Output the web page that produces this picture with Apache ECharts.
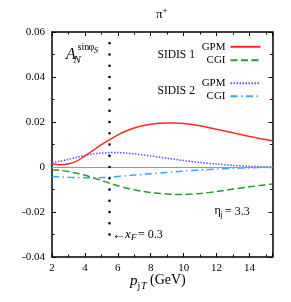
<!DOCTYPE html>
<html><head><meta charset="utf-8">
<script src="https://cdn.jsdelivr.net/npm/echarts@6/dist/echarts.min.js"></script>
<style>html,body{margin:0;padding:0;background:#fff}#c{width:291px;height:302px}</style>
</head><body><div id="c"></div>
<script>
const xValues = [2, 2.5, 3, 3.5, 4, 4.5, 5, 5.5, 6, 6.5, 7, 7.5, 8, 8.5, 9, 9.5, 10, 11, 12, 13, 14, 15, 15.4];
const sidis1GPM = [0.0013, 0.0010, 0.0014, 0.0026, 0.0049, 0.0074, 0.0099, 0.0122, 0.0143, 0.0160, 0.0173, 0.0183, 0.0190, 0.0194, 0.0196, 0.0196, 0.0193, 0.0183, 0.0168, 0.0152, 0.0136, 0.0122, 0.0117];
const sidis1CGI = [-0.0012, -0.0015, -0.0020, -0.0028, -0.0037, -0.0048, -0.0060, -0.0072, -0.0083, -0.0093, -0.0101, -0.0108, -0.0113, -0.0117, -0.0120, -0.0122, -0.0122, -0.0118, -0.0109, -0.0098, -0.0088, -0.0079, -0.0075];
const sidis2GPM = [0.0019, 0.0026, 0.0034, 0.0043, 0.0051, 0.0058, 0.0062, 0.0064, 0.0064, 0.0062, 0.0058, 0.0054, 0.0049, 0.0044, 0.0039, 0.0034, 0.0029, 0.0020, 0.0013, 0.0007, 0.0003, 0.0001, 0.0000];
const sidis2CGI = [-0.0042, -0.0044, -0.0046, -0.0047, -0.0048, -0.0048, -0.0047, -0.0045, -0.0042, -0.0039, -0.0036, -0.0033, -0.0030, -0.0027, -0.0024, -0.0021, -0.0018, -0.0013, -0.0009, -0.0006, -0.0004, -0.0002, -0.0002];
const xFCut = 5.5;
const dotRange = [0.055, -0.035];
const xMin = 2, xMax = 15.4, yMin = -0.04, yMax = 0.06;

const F = 'Liberation Serif, Times New Roman, serif';
const pair = ys => xValues.map((x, i) => [x, ys[i]]);
const chart = echarts.init(document.getElementById('c'), null, {renderer: 'canvas'});

const axisCommon = {
  axisLine: {show: true, onZero: false, lineStyle: {color: '#000', width: 1.5}},
  axisTick: {show: true, inside: true, length: 4, lineStyle: {color: '#000', width: 1}},
  minorTick: {show: true, splitNumber: 2, length: 2.5, lineStyle: {color: '#000', width: 1}},
  splitLine: {show: false}
};

function line(name, ys, color, type, z) {
  return {
    name, type: 'line', data: pair(ys), smooth: 0.3, symbol: 'none', showSymbol: false,
    xAxisIndex: 0, yAxisIndex: 0, z: z || 3,
    lineStyle: {color, width: 1.5, type}, itemStyle: {color}
  };
}

const t = (text, x, y, size, opts) => Object.assign({
  type: 'text', x, y,
  style: Object.assign({text, font: size + 'px ' + F, fill: '#000', verticalAlign: 'middle', align: 'left'}, opts || {})
});

const s1g = line('SIDIS 1 GPM', sidis1GPM, '#ff2a2a', 'solid', 6);
s1g.markLine = {
  silent: true, symbol: 'none', animation: false,
  label: {show: false},
  data: [
    {yAxis: 0, lineStyle: {color: '#999', width: 1, type: 'solid'}},
    [{coord: [xFCut, dotRange[0]]}, {coord: [xFCut, dotRange[1]], lineStyle: {color: '#000', width: 2.6, type: [0, 11.25], cap: 'round'}}]
  ]
};

const legendCommon = {
  orient: 'vertical', align: 'right', right: 29.5, padding: 0, itemWidth: 30, itemHeight: 12,
  selectedMode: false, itemStyle: {opacity: 0, borderWidth: 0},
  formatter: n => n.split(' ').pop(), textStyle: {fontFamily: F, fontSize: 11, color: '#000'}
};

chart.setOption({
  animation: false,
  grid: {left: 52, right: 18.5, top: 32, bottom: 45},
  xAxis: [
    Object.assign({type: 'value', min: xMin, max: xMax, interval: 2, position: 'bottom',
      axisLabel: {fontFamily: F, fontSize: 11, color: '#000', margin: 6, showMaxLabel: false}}, axisCommon),
    Object.assign({type: 'value', min: xMin, max: xMax, interval: 2, position: 'top',
      axisLabel: {show: false}}, axisCommon)
  ],
  yAxis: [
    Object.assign({type: 'value', min: yMin, max: yMax, interval: 0.02, position: 'left',
      axisLabel: {fontFamily: F, fontSize: 11, color: '#000', margin: 7,
        formatter: v => (Math.abs(v) < 1e-9 ? '0' : v.toFixed(2))}}, axisCommon),
    Object.assign({type: 'value', min: yMin, max: yMax, interval: 0.02, position: 'right',
      axisLabel: {show: false}}, axisCommon)
  ],
  legend: [
    Object.assign({data: ['SIDIS 1 GPM', 'SIDIS 1 CGI'], top: 41.3, itemGap: 2.4}, legendCommon),
    Object.assign({data: ['SIDIS 2 GPM', 'SIDIS 2 CGI'], top: 77.7, itemGap: 2}, legendCommon)
  ],
  series: [
    s1g,
    line('SIDIS 1 CGI', sidis1CGI, '#2a9a2a', [7, 3.5], 5),
    line('SIDIS 2 GPM', sidis2GPM, '#5555ff', [1.5, 1.5], 4),
    line('SIDIS 2 CGI', sidis2CGI, '#33aaee', [7, 3.5, 1.5, 3.5], 4)
  ],
  graphic: [
    t('π', 156, 15, 13),
    t('+', 162.5, 10.5, 9),
    t('A', 66, 55, 16, {font: 'italic 16px ' + F}),
    t('N', 73.5, 60.5, 11, {font: 'italic 11px ' + F}),
    t('sin', 77.5, 47.5, 10),
    t('φ', 88.5, 47.5, 10),
    t('S', 94, 50.5, 8, {font: 'italic 8px ' + F}),
    t('SIDIS 1', 157.5, 55, 11.5),
    t('SIDIS 2', 157.5, 90.5, 11.5),
    t('η', 214.5, 211, 12),
    t('j', 220.5, 214.5, 8),
    t('= 3.3', 225, 211.5, 12),
    t('←', 112, 235, 14),
    t('x', 125, 235, 13, {font: 'italic 13px ' + F}),
    t('F', 131, 238, 9, {font: 'italic 9px ' + F}),
    t('= 0.3', 138, 235, 12),
    t('p', 130, 281.5, 15, {font: 'italic 15px ' + F}),
    t('j', 137.5, 286, 10),
    t('T', 141, 286, 10, {font: 'italic 10px ' + F}),
    t('(GeV)', 150, 280.5, 14)
  ]
});
</script></body></html>
